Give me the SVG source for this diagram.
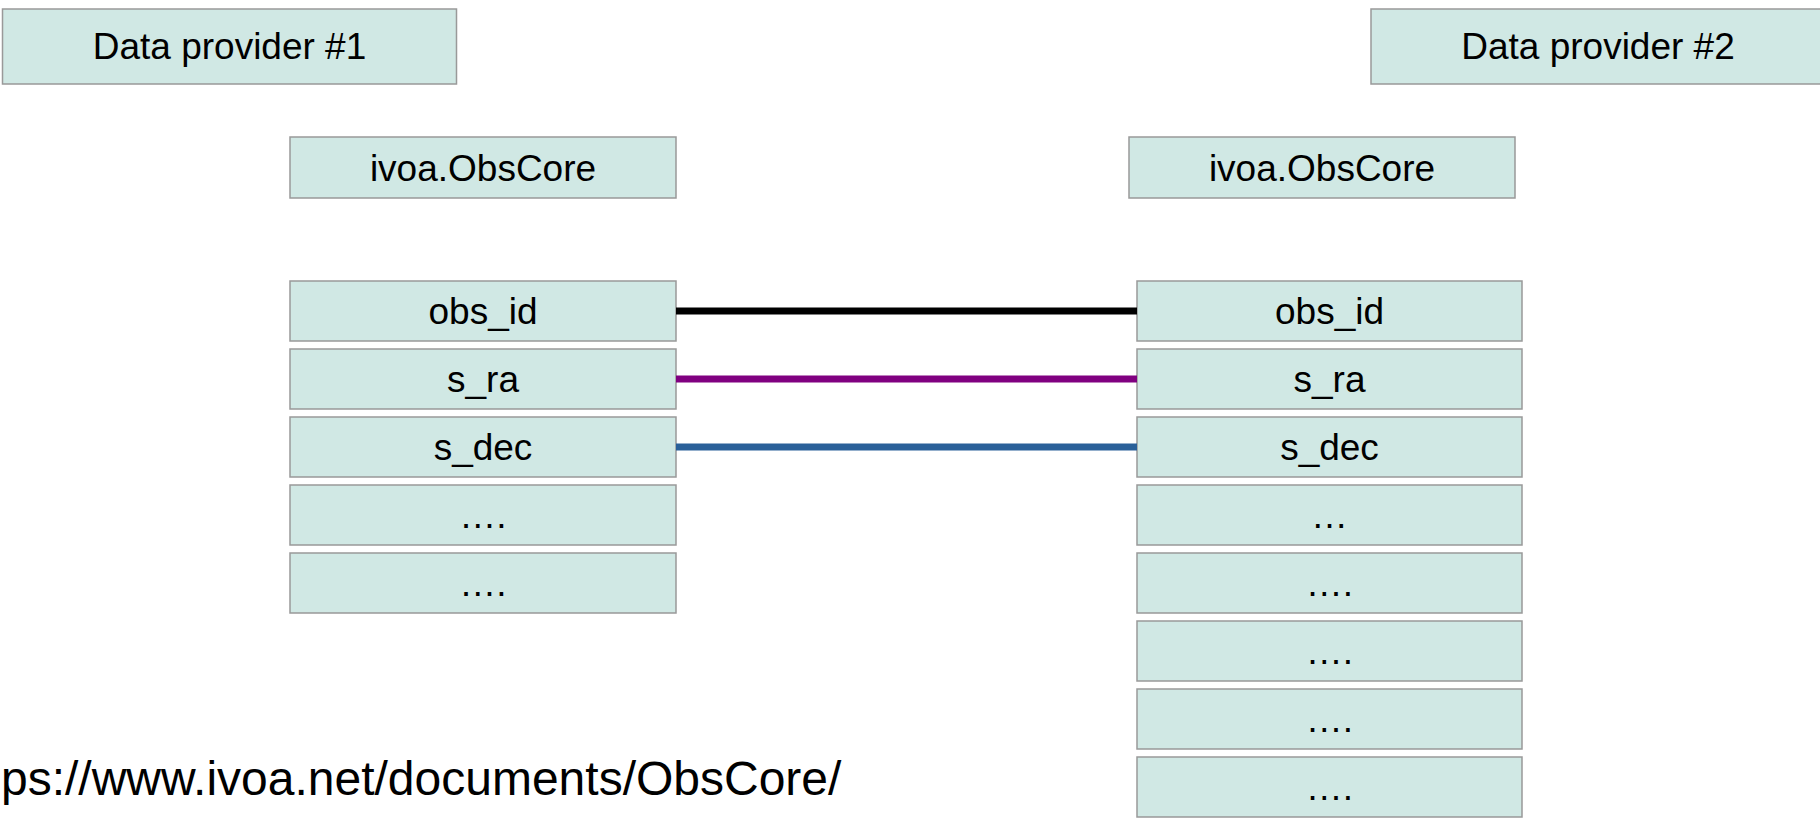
<svg xmlns="http://www.w3.org/2000/svg" width="1820" height="819" viewBox="0 0 1820 819">
<style>
.box{fill:#d0e8e4;stroke:#999999;stroke-width:1.5}
.t{font-family:"Liberation Sans",Arial,sans-serif;font-size:37px;fill:#000;text-anchor:middle}
.url{font-family:"Liberation Sans",Arial,sans-serif;font-size:48px;fill:#000}
.c{fill:none;stroke-width:7}
</style>
<rect width="1820" height="819" fill="#ffffff"/>
<g id="provider1"><rect class="box" x="2.5" y="9" width="454" height="75"/><text class="t" x="229.5" y="59">Data provider #1</text></g>
<g id="provider2"><rect class="box" x="1371" y="9" width="454" height="75"/><text class="t" x="1598" y="59">Data provider #2</text></g>
<g id="obscore1"><rect class="box" x="290" y="137" width="386" height="61"/><text class="t" x="483" y="181">ivoa.ObsCore</text></g>
<g id="obscore2"><rect class="box" x="1129" y="137" width="386" height="61"/><text class="t" x="1322" y="181">ivoa.ObsCore</text></g>
<g id="l_obs_id"><rect class="box" x="290" y="281" width="386" height="60"/><text class="t" x="483" y="324">obs_id</text></g>
<g id="l_s_ra"><rect class="box" x="290" y="349" width="386" height="60"/><text class="t" x="483" y="392">s_ra</text></g>
<g id="l_s_dec"><rect class="box" x="290" y="417" width="386" height="60"/><text class="t" x="483" y="460">s_dec</text></g>
<g id="l_4"><rect class="box" x="290" y="485" width="386" height="60"/><text class="t" x="483" y="528">….</text></g>
<g id="l_5"><rect class="box" x="290" y="553" width="386" height="60"/><text class="t" x="483" y="596">….</text></g>
<g id="r_obs_id"><rect class="box" x="1137" y="281" width="385" height="60"/><text class="t" x="1329.5" y="324">obs_id</text></g>
<g id="r_s_ra"><rect class="box" x="1137" y="349" width="385" height="60"/><text class="t" x="1329.5" y="392">s_ra</text></g>
<g id="r_s_dec"><rect class="box" x="1137" y="417" width="385" height="60"/><text class="t" x="1329.5" y="460">s_dec</text></g>
<g id="r_4"><rect class="box" x="1137" y="485" width="385" height="60"/><text class="t" x="1329.5" y="528">…</text></g>
<g id="r_5"><rect class="box" x="1137" y="553" width="385" height="60"/><text class="t" x="1329.5" y="596">….</text></g>
<g id="r_6"><rect class="box" x="1137" y="621" width="385" height="60"/><text class="t" x="1329.5" y="664">….</text></g>
<g id="r_7"><rect class="box" x="1137" y="689" width="385" height="60"/><text class="t" x="1329.5" y="732">….</text></g>
<g id="r_8"><rect class="box" x="1137" y="757" width="385" height="60"/><text class="t" x="1329.5" y="800">….</text></g>
<g id="connectors">
<line class="c" x1="676" y1="311" x2="1137" y2="311" stroke="#000000"/>
<line class="c" x1="676" y1="379" x2="1137" y2="379" stroke="#800080"/>
<line class="c" x1="676" y1="447" x2="1137" y2="447" stroke="#2a6099"/>
</g>
<g id="url"><text class="url" x="1" y="795">ps://www.ivoa.net/documents/ObsCore/</text></g>
</svg>
